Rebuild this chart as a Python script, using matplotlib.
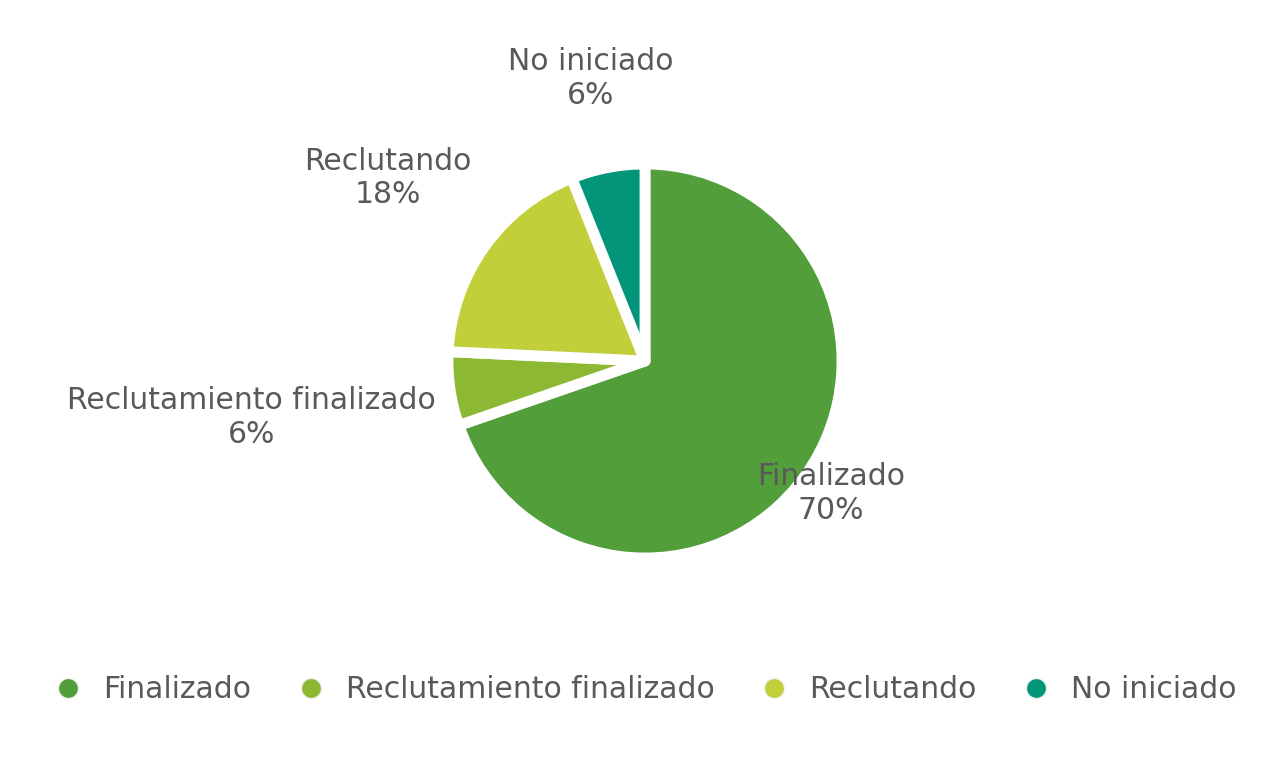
import numpy as np
import matplotlib
matplotlib.use("Agg")
import matplotlib.pyplot as plt
from matplotlib.lines import Line2D

# data
labels = ["Finalizado", "Reclutamiento finalizado", "Reclutando", "No iniciado"]
counts = [23, 2, 6, 2]
colors = ["#529E3A", "#8CB833", "#C0CF3A", "#03957A"]

# label placement (distance from centre in pie radii)
label_dist = [1.16, 2.02, 1.60, 1.46]

TXT = "#595959"
FS = 21.5
plt.rcParams["font.family"] = ["DejaVu Sans"]

fig = plt.figure(figsize=(12.8, 7.6), dpi=100)
R_PX = 197          # drawn radius; the white edge eats ~5 px
HALF = 270
cx, cy = 645, 760 - 361
ax = fig.add_axes([(cx - HALF) / 1280, (cy - HALF) / 760, 2 * HALF / 1280, 2 * HALF / 760])
lim = HALF / R_PX

wedges, _ = ax.pie(counts, colors=colors, startangle=90, counterclock=False,
                   radius=1.0, wedgeprops=dict(edgecolor="white", linewidth=7.8))
for w in wedges:
    w.set_joinstyle("round")
ax.set_xlim(-lim, lim)
ax.set_ylim(-lim, lim)
ax.set_aspect("equal")
ax.axis("off")

total = sum(counts)
for w, lab, n, d in zip(wedges, labels, counts, label_dist):
    ang = np.deg2rad((w.theta1 + w.theta2) / 2)
    ax.text(d * np.cos(ang), d * np.sin(ang), f"{lab}\n{100 * n / total:.0f}%",
            ha="center", va="center", fontsize=FS, color=TXT, linespacing=1.2,
            clip_on=False)

handles = [Line2D([], [], marker="o", ls="", markersize=14.5, markerfacecolor=c,
                  markeredgecolor="#F2F2F2", markeredgewidth=1) for c in colors]
leg = fig.legend(handles, labels, loc="center",
                 bbox_to_anchor=(0.5 + 5 / 1280, 1 - 690 / 760),
                 ncol=4, frameon=False, fontsize=FS, handlelength=1.0,
                 handletextpad=0.67, columnspacing=1.5)
for t in leg.get_texts():
    t.set_color(TXT)

fig.savefig("out.png", dpi=100)
